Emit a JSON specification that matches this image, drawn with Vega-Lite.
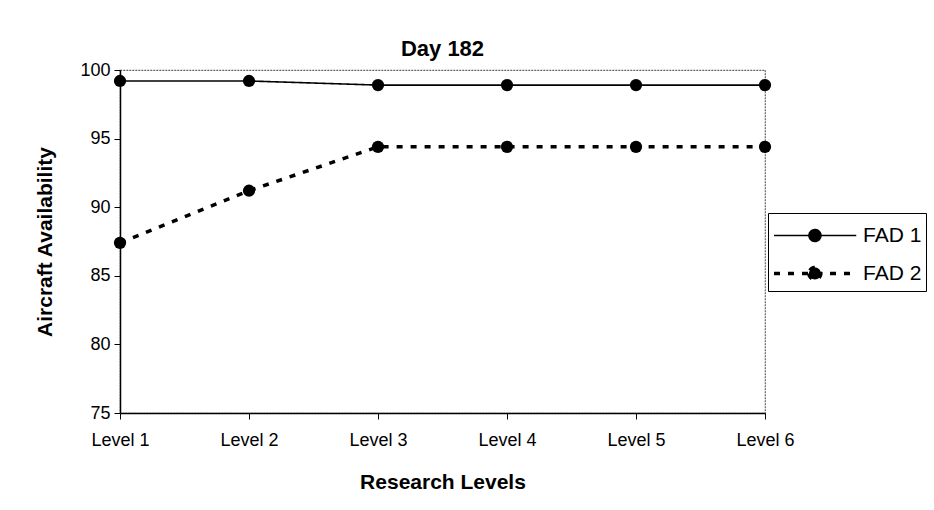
{
  "$schema": "https://vega.github.io/schema/vega-lite/v6.json",
  "autosize": "none",
  "width": 645,
  "height": 343,
  "padding": {"left": 120, "top": 70, "right": 169, "bottom": 97},
  "background": "white",
  "config": {
    "font": "Liberation Sans",
    "view": {"stroke": "#666", "strokeWidth": 1.2, "strokeDash": [2, 1]}
  },
  "title": {"text": "Day 182", "fontSize": 22, "fontWeight": "bold", "font": "Liberation Sans", "color": "black", "offset": 0},
  "data": {
    "values": [
      {"level": "Level 1", "series": "FAD 1", "value": 99.2},
      {"level": "Level 2", "series": "FAD 1", "value": 99.2},
      {"level": "Level 3", "series": "FAD 1", "value": 98.9},
      {"level": "Level 4", "series": "FAD 1", "value": 98.9},
      {"level": "Level 5", "series": "FAD 1", "value": 98.9},
      {"level": "Level 6", "series": "FAD 1", "value": 98.9},
      {"level": "Level 1", "series": "FAD 2", "value": 87.4},
      {"level": "Level 2", "series": "FAD 2", "value": 91.2},
      {"level": "Level 3", "series": "FAD 2", "value": 94.4},
      {"level": "Level 4", "series": "FAD 2", "value": 94.4},
      {"level": "Level 5", "series": "FAD 2", "value": 94.4},
      {"level": "Level 6", "series": "FAD 2", "value": 94.4}
    ]
  },
  "mark": {"type": "line", "color": "black", "point": {"filled": true, "color": "black", "size": 150, "opacity": 1}},
  "encoding": {
    "x": {
      "field": "level", "type": "ordinal",
      "scale": {"type": "point", "padding": 0},
      "axis": {"title": "Research Levels", "titleFontSize": 21, "titleFontWeight": "bold", "titleColor": "black", "titlePadding": 22,
               "labelAngle": 0, "labelFontSize": 18, "labelColor": "black", "labelPadding": 12,
               "domainColor": "black", "domainWidth": 1.5, "tickColor": "black", "tickSize": 6, "grid": false}
    },
    "y": {
      "field": "value", "type": "quantitative",
      "scale": {"domain": [75, 100], "zero": false, "nice": false},
      "axis": {"title": "Aircraft Availability", "titleFontSize": 21, "titleFontWeight": "bold", "titleColor": "black", "titlePadding": 24,
               "values": [75, 80, 85, 90, 95, 100], "labelFontSize": 18, "labelColor": "black", "labelPadding": 4,
               "domainColor": "black", "domainWidth": 1.5, "tickColor": "black", "tickSize": 6, "grid": false}
    },
    "strokeDash": {
      "field": "series", "type": "nominal",
      "scale": {"domain": ["FAD 1", "FAD 2"], "range": [[1, 0], [6, 8]]},
      "legend": {
        "title": null, "orient": "none", "legendX": 648, "legendY": 143,
        "strokeColor": "black", "padding": 4, "fillColor": "white",
        "labelFontSize": 21, "labelColor": "black", "rowPadding": 8, "labelOffset": 52,
        "symbolType": "M -1 0 L 3.7 0 M 1 0 A 0.34 0.34 0 1 0 1.68 0 A 0.34 0.34 0 1 0 1 0 Z",
        "symbolSize": 1225, "symbolFillColor": "black", "symbolStrokeColor": "black",
        "encode": {"symbols": {"enter": {"fill": {"value": "black"}}, "update": {"stroke": {"value": "black"}, "fill": {"value": "black"}, "opacity": {"value": 1}}}}
      }
    },
    "strokeWidth": {
      "field": "series", "type": "nominal",
      "scale": {"domain": ["FAD 1", "FAD 2"], "range": [1.6, 3.5]},
      "legend": null
    }
  }
}
